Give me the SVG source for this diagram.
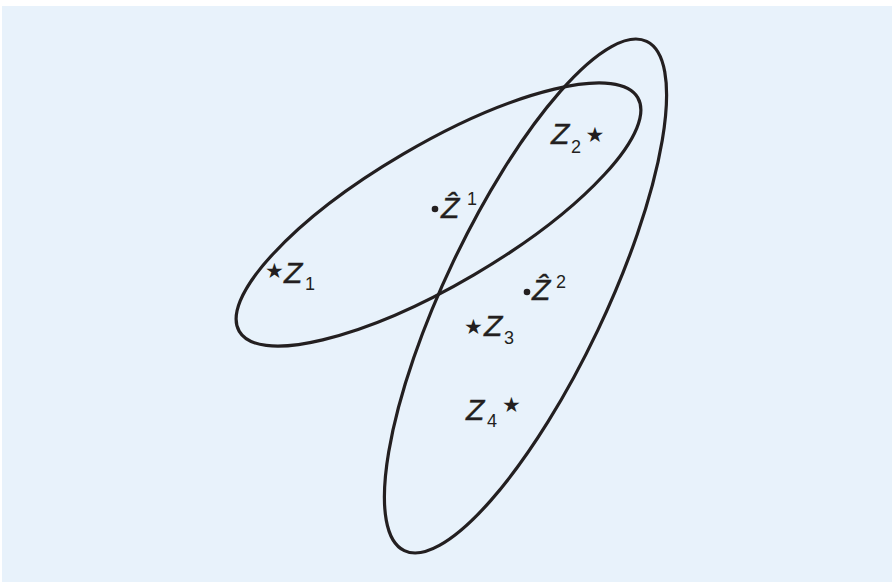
<svg xmlns="http://www.w3.org/2000/svg" width="892" height="582" viewBox="0 0 892 582">
<style>
.e{fill:none;stroke:#231f20;stroke-width:3.2}
.z{font-family:"Liberation Sans",Arial,sans-serif;font-style:italic;font-size:30px;fill:#231f20;stroke:#231f20;stroke-width:0.4}
.s{font-family:"Liberation Sans",Arial,sans-serif;font-size:18px;fill:#231f20}
.st{font-family:"DejaVu Sans",sans-serif;font-size:21px;fill:#231f20;text-anchor:middle}
.d{fill:#231f20}
</style>
<rect x="2" y="6" width="890" height="576" fill="#e8f2fb"/>
<g id="connectors">
<ellipse id="ellipse1" class="e" cx="438.5" cy="214.5" rx="231" ry="70" transform="rotate(-30.4 438.5 214.5)"/>
<ellipse id="ellipse2" class="e" cx="525.5" cy="296" rx="80" ry="282" transform="rotate(25.45 525.5 296)"/>
</g>
<g id="z1"><text class="st" x="274.5" y="278">★</text><text class="z" x="284" y="283">Z</text><text class="s" x="305" y="290">1</text></g>
<g id="zhat1"><circle class="d" cx="435" cy="209" r="3.3"/><text class="z" x="441" y="218">Ẑ</text><text class="s" x="467" y="205">1</text></g>
<g id="z2"><text class="z" x="551" y="144">Z</text><text class="s" x="571" y="153">2</text><text class="st" x="595" y="142">★</text></g>
<g id="zhat2"><circle class="d" cx="527" cy="292" r="3.3"/><text class="z" x="532" y="300">Ẑ</text><text class="s" x="556" y="288">2</text></g>
<g id="z3"><text class="st" x="473.5" y="334">★</text><text class="z" x="484" y="336">Z</text><text class="s" x="504" y="344">3</text></g>
<g id="z4"><text class="z" x="466" y="420">Z</text><text class="s" x="487" y="427">4</text><text class="st" x="511.5" y="412">★</text></g>
</svg>
